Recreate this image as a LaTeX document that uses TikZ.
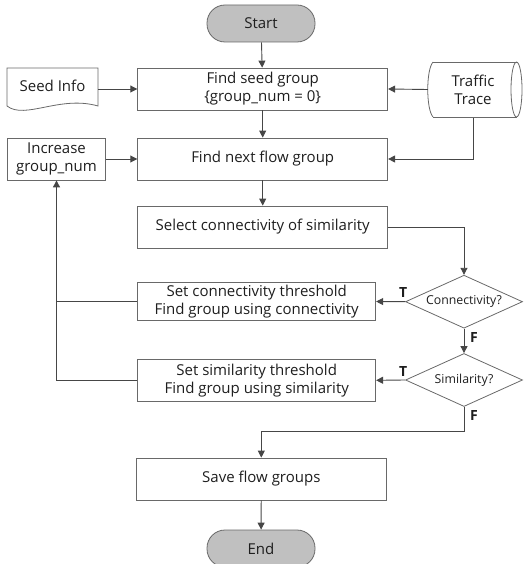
\documentclass[tikz,border=0pt]{standalone}
\usepackage{fontspec}
\setmainfont{Open Sans}
\usetikzlibrary{shapes.geometric,arrows.meta}
\definecolor{lnc}{RGB}{70,70,70}
\definecolor{bxc}{RGB}{105,105,105}
\definecolor{termc}{RGB}{192,192,192}
\definecolor{txc}{RGB}{30,30,30}
\begin{document}
\begin{tikzpicture}[x=1pt,y=-1pt,
  font=\fontsize{15}{18}\selectfont, text=txc,
  box/.style={draw=bxc, line width=0.8pt, rectangle, minimum height=42pt, inner sep=0pt, align=center},
  termnode/.style={draw=bxc, line width=0.8pt, fill=termc, rounded corners=18pt, minimum width=108pt, minimum height=37pt, inner sep=0pt},
  dec/.style={draw=bxc, line width=0.8pt, diamond, minimum width=117pt, minimum height=53pt, inner sep=0pt, font=\fontsize{12.3}{14}\selectfont},
  arr/.style={draw=lnc, line width=0.9pt, -{Triangle[length=7pt,width=7pt]}},
  plain/.style={draw=lnc, line width=0.9pt},
  tf/.style={font=\bfseries\fontsize{14}{15}\selectfont, inner sep=0pt}
]
\useasboundingbox (0,0) rectangle (528,564);

% nodes
\node[termnode] (start) at (261,23.5) {Start};
\node[box, minimum width=250pt] (seedg) at (262.7,89) {Find seed group\\\{group\_num = 0\}};
\node[box, minimum width=250pt] (next) at (262.7,159) {Find next flow group};
\node[box, minimum width=250pt] (sel) at (262.7,227) {Select connectivity of similarity};
\node[box, minimum width=238pt, minimum height=38.5pt] (conn) at (256.7,301.5) {Set connectivity threshold\\Find group using connectivity};
\node[box, minimum width=238pt, minimum height=42pt] (sim) at (256.7,380.3) {Set similarity threshold\\Find group using similarity};
\node[box, minimum width=250pt] (save) at (261.3,479) {Save flow groups};
\node[termnode] (end) at (261,548.5) {End};
\node[box, minimum width=98pt] (inc) at (56.5,159) {Increase\\group\_num};
\node[dec] (d1) at (464,301.7) {\makebox[0pt]{Connectivity?}};
\node[dec] (d2) at (464,380) {\makebox[0pt]{Similarity?}};

% Seed Info document
\node[minimum width=91pt, minimum height=42pt, inner sep=0pt] (seed) at (52.5,89) {\raisebox{6pt}{Seed Info}};
\draw[draw=bxc, line width=0.8pt] (7,68) -- (98,68) -- (98,106)
  .. controls (60,95) and (25,120) .. (7,106) -- cycle;

% Traffic Trace cylinder
\node[minimum width=90pt, minimum height=56pt, inner sep=0pt, align=center] (trace) at (473,89.5) {Traffic\\Trace};
\draw[draw=bxc, line width=0.8pt] (433,62) -- (516.5,62);
\draw[draw=bxc, line width=0.8pt] (433,117) -- (516.5,117);
\draw[draw=bxc, line width=0.8pt] (433,62) .. controls (426,70) and (426,109) .. (433,117);
\draw[draw=bxc, line width=0.8pt] (516.5,89.5) ellipse [x radius=5.5, y radius=27.5];

% connectors
\draw[arr] (start) -- (seedg);
\draw[arr] (seed.east) -- (seedg.west);
\draw[arr] (trace.west) -- (seedg.east);
\draw[arr] (seedg) -- (next);
\draw[arr] (trace.south) |- (next.east);
\draw[arr] (inc.east) -- (next.west);
\draw[arr] (next) -- (sel);
\draw[arr] (sel.east) -| (d1.north);
\draw[arr] (d1.west) -- (conn.east);
\draw[arr] (d1.south) -- (d2.north);
\draw[arr] (d2.west) -- (sim.east);
\draw[arr] (d2.south) -- ++(0,25) -| (save.north);
\draw[arr] (save) -- (end);
\draw[plain] (conn.west) -- (conn.west -| inc.south);
\draw[arr] (sim.west) -| (inc.south);

% labels
\node[tf] (t1) at ([xshift=-2pt,yshift=9pt]d1.west) {T};
\node[tf] (f1) at ([xshift=10pt,yshift=-9pt]d1.south) {F};
\node[tf] (t2) at ([xshift=-2pt,yshift=9pt]d2.west) {T};
\node[tf] (f2) at ([xshift=10pt,yshift=-9pt]d2.south) {F};
\end{tikzpicture}
\end{document}
